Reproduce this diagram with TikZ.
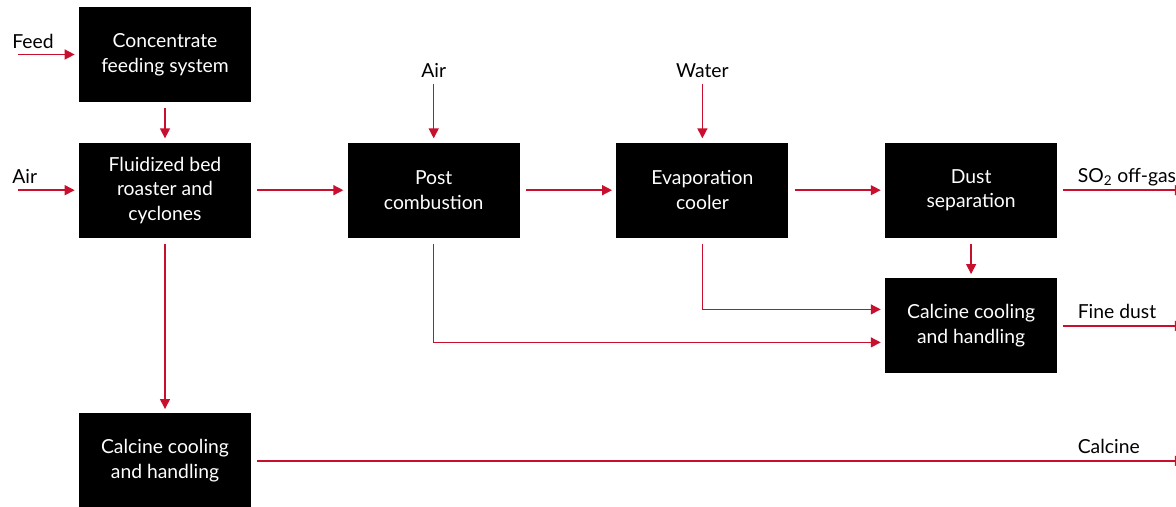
\documentclass[tikz,border=0pt]{standalone}
\usepackage{fontspec}
\setmainfont{Lato}
\usepackage{tikz}
\usetikzlibrary{arrows.meta,positioning}
\definecolor{flowred}{RGB}{200,16,46}
\tikzstyle{block} = [rectangle, fill=black, text=white, align=center, minimum width=3.44cm, minimum height=1.9cm, inner sep=0pt, font=\fontsize{11}{14}\selectfont]
\tikzstyle{stream} = [inner sep=0pt, anchor=base west, font=\fontsize{11}{14}\selectfont]
\tikzstyle{line} = [draw, line width=0.8pt, color=flowred, -{Triangle[length=5.7pt,width=5.7pt]}, shorten <=0.12cm, shorten >=0.08cm]

\begin{document}
\begin{tikzpicture}
		\useasboundingbox (0,0) rectangle (23.52,-10.14);
		% Place nodes
		\node [block] (feeding) at (3.30,-1.09) {Concentrate\\feeding system};
		\node [block, below=0.8cm of feeding] (roaster) {Fluidized bed\\roaster and\\cyclones};
		\node [block, right=1.92cm of roaster] (postcomb) {Post\\combustion};
		\node [block, right=1.92cm of postcomb] (evap) {Evaporation\\cooler};
		\node [block, right=1.92cm of evap] (dustsep) {Dust\\separation};
		\node [block, below=0.8cm of dustsep] (finecool) {Calcine cooling\\and handling};
		\node [block, below=3.5cm of roaster] (calcool) {Calcine cooling\\and handling};
		% Streams in and out
		\coordinate (feedin) at (0.24,-1.09);
		\coordinate (airin) at (roaster.west -| feedin);
		\coordinate (rightedge) at (23.78,0);
		\node [stream] (feedlbl) at ([yshift=0.12cm]feedin) {Feed};
		\node [stream] (airlbl) at ([yshift=0.13cm]airin) {Air};
		\node [stream, anchor=base] (airtop) at ([yshift=1.30cm]postcomb.north) {Air};
		\node [stream, anchor=base] (watertop) at ([yshift=1.30cm]evap.north) {Water};
		\node [stream] (so2lbl) at ([xshift=0.4cm,yshift=0.15cm]dustsep.east) {SO\textsubscript{2} off-gas};
		\node [stream] (finelbl) at ([xshift=0.4cm,yshift=0.15cm]finecool.east) {Fine dust};
		\node [stream] (callbl) at ([yshift=0.15cm]calcool.east -| so2lbl.west) {Calcine};
		% Draw edges
		\path [line] (feedin) -- (feeding.west);
		\path [line] (airin) -- (roaster.west);
		\path [line] (feeding) -- (roaster);
		\path [line] (roaster) -- (postcomb);
		\path [line] (postcomb) -- (evap);
		\path [line] (evap) -- (dustsep);
		\path [line] (airtop) -- (postcomb);
		\path [line] (watertop) -- (evap);
		\path [line] (dustsep) -- (finecool);
		\path [line] (evap.south) |- ([yshift=0.33cm]finecool.west);
		\path [line] (postcomb.south) |- ([yshift=-0.33cm]finecool.west);
		\path [line] (roaster) -- (calcool);
		\path [line] (dustsep.east) -- (dustsep.east -| rightedge);
		\path [line] (finecool.east) -- (finecool.east -| rightedge);
		\path [line] (calcool.east) -- (calcool.east -| rightedge);
	\end{tikzpicture}
\end{document}
